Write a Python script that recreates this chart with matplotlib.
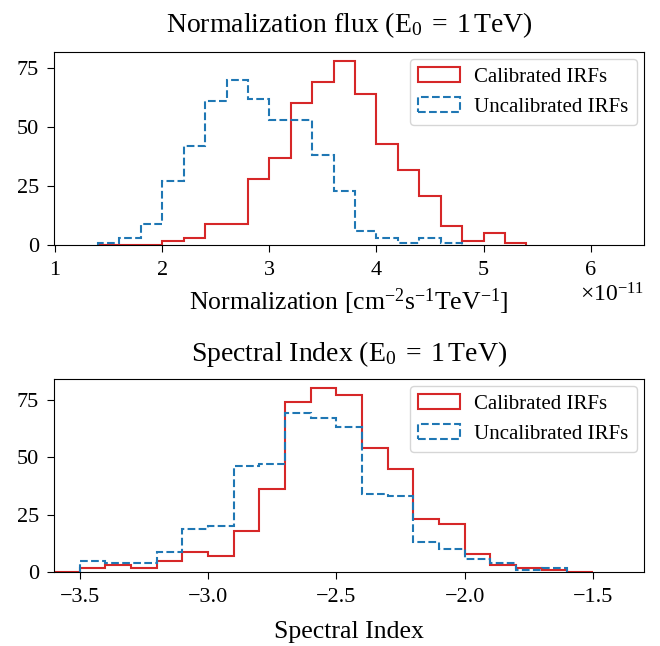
import numpy as np
import matplotlib
matplotlib.use("Agg")
import matplotlib.pyplot as plt
from matplotlib.ticker import ScalarFormatter

plt.rcParams['font.family'] = ['Liberation Serif', 'DejaVu Serif']
plt.rcParams['mathtext.fontset'] = 'custom'
plt.rcParams['mathtext.rm'] = 'Liberation Serif'
plt.rcParams['mathtext.it'] = 'Liberation Serif:italic'

# --- Normalization flux histogram (units of 1e-11) ---
norm_bin_start = 1.4
norm_bin_width = 0.2
norm_calibrated = [0, 0, 0, 2, 3, 9, 9, 28, 37, 60, 69, 78, 64, 43, 32, 21, 8, 2, 5, 1]
norm_uncalibrated = [1, 3, 9, 27, 42, 61, 70, 62, 53, 53, 38, 23, 6, 3, 1, 3, 1]
norm_ticks = [1, 2, 3, 4, 5, 6]

# --- Spectral index histogram ---
index_bin_width = 0.1
index_calibrated_start = -3.6
index_calibrated = [0, 2, 3, 2, 5, 9, 7, 18, 36, 74, 80, 77, 54, 45, 23, 21, 8, 3, 2, 1, 0]
index_uncalibrated_start = -3.5
index_uncalibrated = [5, 4, 4, 9, 19, 20, 46, 47, 69, 67, 63, 34, 33, 13, 10, 6, 4, 1, 2]
index_ticks = [-3.5, -3.0, -2.5, -2.0, -1.5]

count_ticks = [0, 25, 50, 75]


def edges(start, width, n):
    return start + width * np.arange(n + 1)


def draw_hist(ax, counts, start, width, scale=1.0, **kw):
    e = edges(start, width, len(counts)) * scale
    ax.hist(e[:-1], bins=e, weights=counts, histtype='step', lw=1.5, **kw)


fig, (ax1, ax2) = plt.subplots(2, 1, figsize=(6.6, 6.46), dpi=100)
fig.subplots_adjust(left=0.082, right=0.976, top=0.92, bottom=0.114, hspace=0.69)

# top panel
draw_hist(ax1, norm_calibrated, norm_bin_start, norm_bin_width, scale=1e-11,
          color='#d62728', label='Calibrated IRFs')
draw_hist(ax1, norm_uncalibrated, norm_bin_start, norm_bin_width, scale=1e-11,
          color='#1f77b4', ls='--', label='Uncalibrated IRFs')
ax1.set_xlim(0.99e-11, 6.5e-11)
ax1.set_xticks(np.array(norm_ticks) * 1e-11)
ax1.xaxis.set_major_formatter(ScalarFormatter(useMathText=True))
ax1.set_title(r'Normalization flux (E$_0\;=\;1\,$TeV)', fontsize=20, pad=14)
ax1.set_xlabel(r'Normalization [cm$^{-2}$s$^{-1}$TeV$^{-1}$]', fontsize=18.5, labelpad=5)

# bottom panel
draw_hist(ax2, index_calibrated, index_calibrated_start, index_bin_width,
          color='#d62728', label='Calibrated IRFs')
draw_hist(ax2, index_uncalibrated, index_uncalibrated_start, index_bin_width,
          color='#1f77b4', ls='--', label='Uncalibrated IRFs')
ax2.set_xlim(-3.6, -1.3)
ax2.set_xticks(index_ticks)
ax2.set_title(r'Spectral Index (E$_0\;=\;1\,$TeV)', fontsize=20, pad=13)
ax2.set_xlabel('Spectral Index', fontsize=18.5, labelpad=10)

for ax in (ax1, ax2):
    ax.set_yticks(count_ticks)
    ax.tick_params(labelsize=16, length=5, pad=6)
    ax.legend(loc='upper right', fontsize=15, handletextpad=0.7, borderaxespad=0.35)
ax1.xaxis.get_offset_text().set_fontsize(17)

fig.savefig('out.png')
